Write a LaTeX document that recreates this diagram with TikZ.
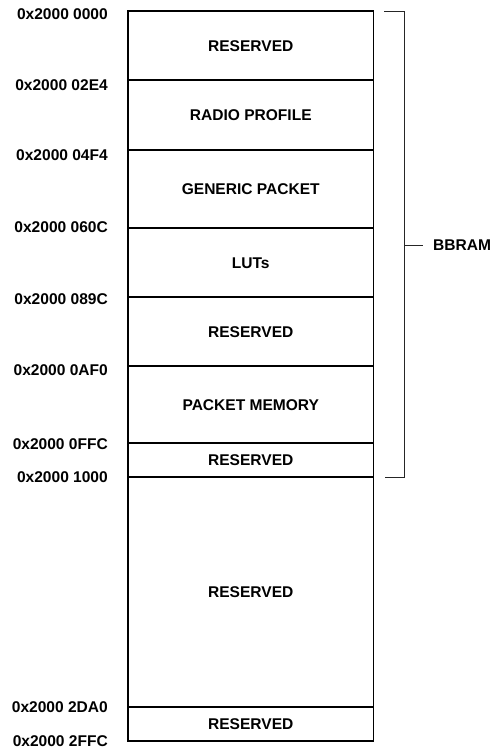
\documentclass[tikz,border=0pt]{standalone}
\usepackage{fontspec}
\setmainfont{Liberation Sans}
\begin{document}
\begin{tikzpicture}[x=1bp,y=-1bp,
  every node/.style={font=\fontsize{15.6}{18}\selectfont\bfseries, inner sep=0pt, text height=11.2bp, text depth=0pt},
  region/.style={draw, line width=1.3bp, minimum width=245.5bp, anchor=center},
  addr/.style={anchor=east},
  brk/.style={line width=0.9bp, black!85}]
\useasboundingbox (0,0) rectangle (495,755);
\node[region, minimum height=69bp]   (r1) at (250.75,45.5)   {RESERVED};
\node[region, minimum height=70bp]   (r2) at (250.75,115)    {RADIO PROFILE};
\node[region, minimum height=78bp]   (r3) at (250.75,189)    {GENERIC PACKET};
\node[region, minimum height=69bp]   (r4) at (250.75,262.5)  {LUTs};
\node[region, minimum height=69bp]   (r5) at (250.75,331.5)  {RESERVED};
\node[region, minimum height=77bp]   (r6) at (250.75,404.5)  {PACKET MEMORY};
\node[region, minimum height=34bp]   (r7) at (250.75,460)    {RESERVED};
\node[region, minimum height=230bp]  (r8) at (250.75,592)    {RESERVED};
\node[region, minimum height=34bp]   (r9) at (250.75,724)    {RESERVED};
\node[addr] (a0) at (108,14)  {0x2000 0000};
\node[addr] (a1) at (108,85)  {0x2000 02E4};
\node[addr] (a2) at (108,155) {0x2000 04F4};
\node[addr] (a3) at (108,227) {0x2000 060C};
\node[addr] (a4) at (108,299) {0x2000 089C};
\node[addr] (a5) at (108,370) {0x2000 0AF0};
\node[addr] (a6) at (108,444) {0x2000 0FFC};
\node[addr] (a7) at (108,477) {0x2000 1000};
\node[addr] (a8) at (108,707) {0x2000 2DA0};
\node[addr] (a9) at (108,741) {0x2000 2FFC};
\coordinate (bt1) at (384,11);
\coordinate (bt2) at (404,11);
\coordinate (bb2) at (404,477);
\coordinate (bb1) at (385,477);
\coordinate (tk1) at (404,245);
\coordinate (tk2) at (423,245);
\draw[brk] (bt1) -- (bt2) -- (bb2) -- (bb1);
\draw[brk] (tk1) -- (tk2);
\node[anchor=west] (bbram) at (433,245) {BBRAM};
\end{tikzpicture}
\end{document}
